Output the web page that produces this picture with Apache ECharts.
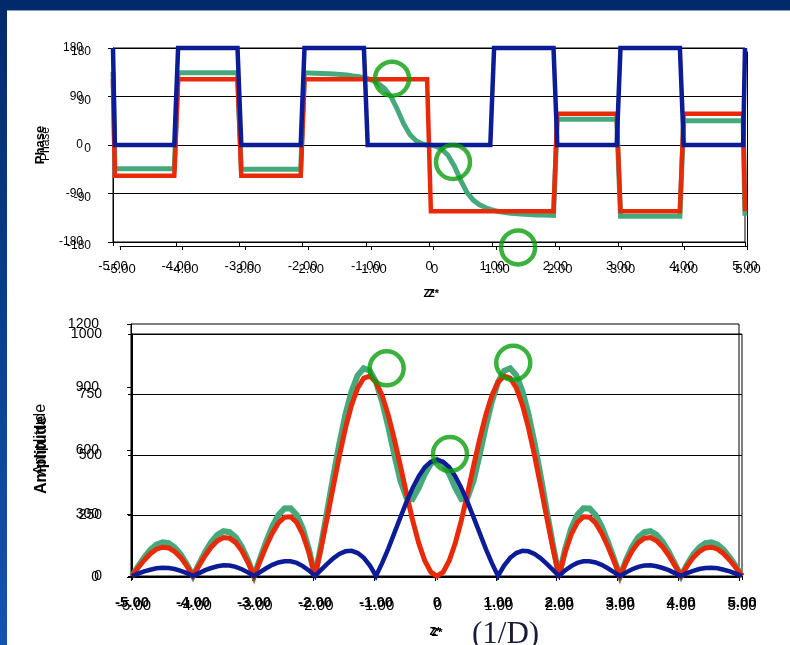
<!DOCTYPE html>
<html>
<head>
<meta charset="utf-8">
<script src="https://cdn.jsdelivr.net/npm/echarts@6/dist/echarts.min.js"></script>
<style>
  html, body { margin: 0; padding: 0; background: #fff; }
  #chart { width: 790px; height: 645px; }
</style>
</head>
<body>
<div id="chart"></div>
<script>
  // Z* sample positions for the amplitude curves
  var ampX = [-5,-4.9,-4.8,-4.7,-4.6,-4.5,-4.4,-4.3,-4.2,-4.1,-4,-3.9,-3.8,-3.7,-3.6,-3.5,-3.4,-3.3,-3.2,-3.1,
    -3,-2.9,-2.8,-2.7,-2.6,-2.5,-2.4,-2.3,-2.2,-2.1,-2,-1.9,-1.8,-1.7,-1.6,-1.5,-1.4,-1.3,-1.2,-1.1,
    -1,-0.9,-0.8,-0.7,-0.6,-0.5,-0.4,-0.3,-0.2,-0.1,0,0.1,0.2,0.3,0.4,0.5,0.6,0.7,0.8,0.9,
    1,1.1,1.2,1.3,1.4,1.5,1.6,1.7,1.8,1.9,2,2.1,2.2,2.3,2.4,2.5,2.6,2.7,2.8,2.9,
    3,3.1,3.2,3.3,3.4,3.5,3.6,3.7,3.8,3.9,4,4.1,4.2,4.3,4.4,4.5,4.6,4.7,4.8,4.9,5];

  var blueAmp = [0,10,19,26,32,34,33,29,21,12,0,12,24,33,40,44,43,38,28,15,
    0,16,32,46,56,61,61,54,41,23,0,25,50,73,91,102,104,95,75,43,
    0,53,112,177,242,306,363,412,449,472,480,472,449,412,363,306,242,177,112,53,
    0,43,75,95,104,102,91,73,50,25,0,23,41,54,61,61,56,46,32,16,
    0,15,28,38,43,44,40,33,24,12,0,12,21,29,33,34,32,26,19,10,0];

  var redAmp = [0,34,65,92,111,119,116,101,76,41,0,43,85,120,146,159,156,138,104,57,
    0,62,123,177,219,243,245,221,172,97,0,115,241,371,497,612,707,777,818,826,
    801,746,666,566,455,340,231,136,63,16,0,16,63,136,231,340,455,566,666,746,
    801,826,818,777,707,612,497,371,241,115,0,97,172,221,245,243,219,177,123,62,
    0,57,104,138,156,159,146,120,85,43,0,41,76,101,116,119,111,92,65,34,0];

  var greenAmp = [0,40,76,108,130,139,136,118,89,48,0,50,99,140,170,185,181,160,121,66,
    0,72,142,204,252,279,280,252,196,110,0,129,269,412,548,669,764,829,858,848,
    801,721,618,502,394,324,318,364,421,464,480,464,421,364,318,324,394,502,618,721,
    801,848,858,829,764,669,548,412,269,129,0,110,196,252,280,279,252,204,142,72,
    0,66,121,160,181,185,170,140,99,50,0,48,89,118,136,139,130,108,76,40,0];

  // phase curves (degrees)
  var bluePhaseX = [-5,-4.97,-4.03,-3.97,-3.03,-2.97,-2.03,-1.97,-1.03,-0.97,0.97,1.03,1.97,2.03,2.97,3.03,3.97,4.03,4.97,5];
  var bluePhase  = [180,0,0,180,180,0,0,180,180,0,0,180,180,0,0,180,180,0,0,180];

  var redPhaseX = [-5,-4.97,-4.03,-3.97,-3.03,-2.97,-2.03,-1.97,-0.03,0.03,1.97,2.03,2.97,3.03,3.97,4.03,4.97,5];
  var redPhase  = [122,-57,-57,122,122,-57,-57,122,122,-123,-123,58,58,-123,-123,58,58,-123];

  var greenPhaseX = [-5,-4.97,-4.03,-3.97,-3.03,-2.97,-2.03,-1.97,
    -1.9,-1.8,-1.7,-1.6,-1.5,-1.4,-1.3,-1.2,-1.1,-1.03,-0.97,
    -0.9,-0.8,-0.7,-0.6,-0.5,-0.4,-0.3,-0.2,-0.1,-0.03,0.03,
    0.1,0.2,0.3,0.4,0.5,0.6,0.7,0.8,0.9,0.97,1.03,
    1.1,1.2,1.3,1.4,1.5,1.6,1.7,1.8,1.9,1.97,2.03,2.97,3.03,3.97,4.03,4.97,5];
  var greenPhase = [136,-44,-44,134,134,-45,-45,134,
    133.6,133.2,132.8,132.3,131.6,130.8,129.7,128.3,126.5,125,123,
    120,114,104.5,89.5,66,39,19,7.5,1.7,0.2,-0.2,
    -1.7,-7.4,-18.9,-38.9,-65.2,-87.9,-102.2,-111,-116.4,-119.5,-121.5,
    -123.3,-125.2,-126.6,-127.7,-128.5,-129.2,-129.7,-130.1,-130.5,-130.8,48,48,-132,-132,45,45,-131];

  // green ring annotations [Z*, value]
  var phaseRings = [[-0.585, 123], [0.38, -31.5], [1.41, -190]];
  var ampRings = [[-0.825, 858], [0.213, 504], [1.25, 881]];

  var FONT = '"Liberation Sans", Arial, sans-serif';
  var BLUE = '#0b1c96', RED = '#e92a08', GREEN = '#46a97c', RING = '#0c9e0c';

  function pairs(xs, ys) {
    return xs.map(function (x, i) { return [x, ys[i]]; });
  }
  function zLabel(v) { return v === 0 ? '0' : v.toFixed(2); }
  function plain(v) { return String(v); }

  function xAxis(grid, size, weight, margin, nameGap, pad) {
    return {
      gridIndex: grid, type: 'value', min: -5, max: 5, interval: 1,
      axisLine: { show: true, onZero: false, lineStyle: { color: '#000', width: 1 } },
      axisTick: { show: true, length: 4, lineStyle: { color: '#000' } },
      axisLabel: { formatter: zLabel, color: '#000', fontFamily: FONT, fontSize: size, fontWeight: weight,
        margin: margin, padding: pad || 0 },
      splitLine: { show: false },
      name: 'Z*', nameLocation: 'middle', nameGap: nameGap,
      nameTextStyle: { color: '#000', fontFamily: FONT, fontSize: 11, fontWeight: 'bold' }
    };
  }

  function line(xi, yi, xs, ys, color, width, z) {
    return {
      type: 'line', xAxisIndex: xi, yAxisIndex: yi, data: pairs(xs, ys),
      showSymbol: false, symbol: 'none', clip: false, z: z,
      lineStyle: { color: color, width: width, join: 'miter', miterLimit: 3 }
    };
  }

  function rings(xi, yi, data) {
    return {
      type: 'scatter', xAxisIndex: xi, yAxisIndex: yi, data: data, clip: false, z: 10,
      symbol: 'circle', symbolSize: 34,
      itemStyle: { color: 'rgba(0,0,0,0)', borderColor: RING, borderWidth: 4.5 }
    };
  }

  var chart = echarts.init(document.getElementById('chart'));
  chart.setOption({
    animation: false,
    backgroundColor: '#fff',
    grid: [
      { left: 113, top: 48, width: 632, height: 194, show: true, borderColor: '#000', borderWidth: 1 },
      { left: 120, top: 52, width: 627, height: 194 },
      { left: 132, top: 334, width: 610, height: 242, show: true, borderColor: '#000', borderWidth: 1 },
      { left: 131, top: 324, width: 608, height: 253, show: true, borderColor: '#000', borderWidth: 1 }
    ],
    xAxis: [
      xAxis(0, 13, 'normal', 18, 46),
      xAxis(1, 13, 'normal', 17, 42, [0, 0, 0, 2]),
      xAxis(2, 15, 'bold', 19, 51),
      xAxis(3, 15, 'normal', 21, 49, [0, 0, 0, 6])
    ],
    yAxis: [
      {
        gridIndex: 0, type: 'value', min: -180, max: 180, interval: 90,
        axisLine: { show: true, onZero: false, lineStyle: { color: '#000' } },
        axisTick: { show: true, length: 5, lineStyle: { color: '#000' } },
        axisLabel: { formatter: plain, color: '#000', fontFamily: FONT, fontSize: 12, margin: 30 },
        splitLine: { show: true, lineStyle: { color: '#000', width: 1 } },
        name: 'Phase', nameLocation: 'middle', nameRotate: 90, nameGap: 66,
        nameTextStyle: { color: '#000', fontFamily: FONT, fontSize: 13, fontWeight: 'bold' }
      },
      {
        gridIndex: 1, type: 'value', min: -180, max: 180, interval: 90,
        axisLine: { show: false }, axisTick: { show: false },
        axisLabel: { formatter: plain, color: '#000', fontFamily: FONT, fontSize: 12, margin: 29 },
        splitLine: { show: false },
        name: 'Phase', nameLocation: 'middle', nameRotate: 90, nameGap: 68,
        nameTextStyle: { color: '#000', fontFamily: FONT, fontSize: 12, padding: [0, 0, 0, 10] }
      },
      {
        gridIndex: 1, type: 'value', position: 'right', min: -180, max: 180, interval: 90,
        axisLine: { show: true, onZero: false, lineStyle: { color: '#000' } },
        axisTick: { show: false }, axisLabel: { show: false }, splitLine: { show: false }
      },
      {
        gridIndex: 2, type: 'value', min: 0, max: 1000, interval: 250,
        axisLine: { show: true, onZero: false, lineStyle: { color: '#000' } },
        axisTick: { show: true, length: 4, lineStyle: { color: '#000' } },
        axisLabel: { formatter: plain, color: '#000', fontFamily: FONT, fontSize: 14, margin: 30 },
        splitLine: { show: true, lineStyle: { color: '#000', width: 1 } },
        name: 'Amplitude', nameLocation: 'middle', nameRotate: 90, nameGap: 82,
        nameTextStyle: { color: '#000', fontFamily: FONT, fontSize: 16, fontWeight: 'bold' }
      },
      {
        gridIndex: 3, type: 'value', min: 0, max: 1200, interval: 300,
        axisLine: { show: true, onZero: false, lineStyle: { color: '#000' } },
        axisTick: { show: true, length: 4, lineStyle: { color: '#000' } },
        axisLabel: { formatter: plain, color: '#000', fontFamily: FONT, fontSize: 14, margin: 32 },
        splitLine: { show: false },
        name: 'Amplitude', nameLocation: 'middle', nameRotate: 90, nameGap: 82,
        nameTextStyle: { color: '#000', fontFamily: FONT, fontSize: 16, padding: [0, 0, 0, 22] }
      }
    ],
    series: [
      line(0, 0, greenPhaseX, greenPhase, GREEN, 5, 2),
      line(0, 0, redPhaseX, redPhase, RED, 4.5, 3),
      line(0, 0, bluePhaseX, bluePhase, BLUE, 4.5, 4),
      rings(0, 0, phaseRings),
      line(2, 3, ampX, greenAmp, GREEN, 6, 2),
      line(2, 3, ampX, redAmp, RED, 5, 3),
      line(2, 3, ampX, blueAmp, BLUE, 4.5, 4),
      rings(2, 3, ampRings)
    ],
    graphic: [
      { type: 'rect', left: 0, top: 0, shape: { width: 790, height: 10 }, style: { fill: '#012a6b' } },
      { type: 'rect', left: 0, top: 10, shape: { width: 790, height: 1 }, style: { fill: '#8a9cc4' } },
      {
        type: 'rect', left: 0, top: 0, shape: { width: 7, height: 645 },
        style: {
          fill: new echarts.graphic.LinearGradient(0, 0, 0, 1, [
            { offset: 0, color: '#012a6b' }, { offset: 1, color: '#1552b5' }
          ])
        }
      },
      {
        type: 'text', left: 472, top: 619,
        style: { text: '(1/D)', fontFamily: '"Liberation Serif", "Times New Roman", serif', fontSize: 31, fill: '#1a1a3a' }
      }
    ]
  });
</script>
</body>
</html>
